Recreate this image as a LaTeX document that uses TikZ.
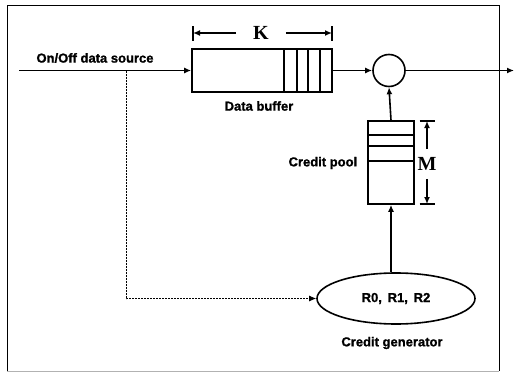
\documentclass[tikz,border=0pt]{standalone}
\usepackage{fontspec}
\setmainfont{Liberation Sans}[BoldFeatures={FakeBold=1.2}]
\newfontfamily\serifbold{Liberation Serif}
\usetikzlibrary{arrows.meta,shapes.geometric}
\begin{document}
\begin{tikzpicture}[x=1pt,y=-1pt,line width=1.6pt,
  >={Latex[length=7pt,width=6pt]},
  lbl/.style={font=\fontsize{13}{15}\selectfont\bfseries,inner sep=0pt},
  dim/.style={font=\serifbold\fontsize{20}{22}\selectfont\bfseries,inner sep=0pt},
  dimarrow/.style={line width=1.4pt,->},
  bar/.style={line width=1.6pt},
  box/.style={draw,inner sep=0pt},
  dashedline/.style={line width=0.9pt,dash pattern=on 2pt off 1pt}]
\useasboundingbox (0,0) rectangle (515,372);
% frame
\draw[line width=0.9pt] (7,371) -- (7,5) -- (499,5) -- (499,371);
\draw[line width=0.7pt,black!30] (7,371) -- (499,371);
% data buffer
\node[box,minimum width=140pt,minimum height=43pt] (buf) at (262,70.5) {};
\foreach \d in {13,25,36,49}
  \draw ([xshift=-\d pt]buf.north east) -- ([xshift=-\d pt]buf.south east);
\node[lbl] (buflbl) at (259,106) {Data buffer};
% source
\coordinate (src) at (19,70.5);
\coordinate (tap) at (126,70.5);
\node[lbl] (srclbl) at (95,58) {On/Off data source};
\draw[->] (src) -- (buf.west);
% sum circle
\node[circle,draw,minimum size=32pt,inner sep=0pt] (sum) at (389,70.5) {};
\draw[->] (buf.east) -- (sum.west);
\coordinate (out) at (514,70.5);
\draw[->] (sum.east) -- (out);
% K dimension
\node[dim,minimum width=48pt] (K) at (261,33) {K};
\coordinate (kl) at (193,33);
\coordinate (kr) at (332,33);
\draw[dimarrow] (K.west) -- (kl);
\draw[dimarrow] (K.east) -- (kr);
\draw[bar] ([yshift=-7.5pt]kl) -- ([yshift=7.5pt]kl);
\draw[bar] ([yshift=-7.5pt]kr) -- ([yshift=7.5pt]kr);
% credit pool
\node[box,minimum width=46pt,minimum height=83pt] (pool) at (391,162.5) {};
\foreach \d in {15,26,41}
  \draw ([yshift=-\d pt]pool.north west) -- ([yshift=-\d pt]pool.north east);
\node[lbl,anchor=east] (poollbl) at (358,163) {Credit pool};
\draw[->] (pool.north) -- (sum.south);
% M dimension
\node[dim,minimum height=28pt] (M) at (427,164) {M};
\coordinate (mt) at (427,121);
\coordinate (mb) at (427,204);
\draw[dimarrow] (M.north) -- (mt);
\draw[dimarrow] (M.south) -- (mb);
\draw[bar] ([xshift=-7.5pt]mt) -- ([xshift=7.5pt]mt);
\draw[bar] ([xshift=-7.5pt]mb) -- ([xshift=7.5pt]mb);
% credit generator
\node[ellipse,draw,minimum width=158pt,minimum height=51pt,inner sep=0pt,
  font=\fontsize{13}{15}\selectfont\bfseries] (gen) at (396,298.5) {R0,\, R1,\, R2};
\node[lbl] (genlbl) at (392,343) {Credit generator};
\draw[->] (pool.south |- gen.north) -- (pool.south);
\draw[dashedline,->] (tap) |- (gen.west);
\end{tikzpicture}
\end{document}
